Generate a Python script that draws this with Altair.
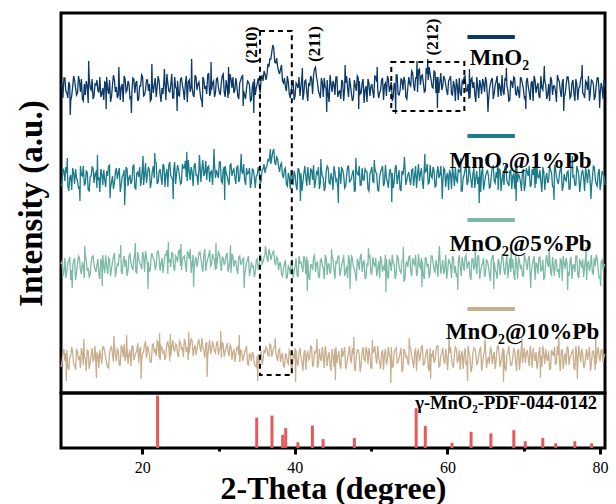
import altair as alt
import pandas as pd

# ---------------- data ----------------
STEP = 0.25          # 2-theta step of each digitised list
X_START = 10.0       # first point of the "main" lists
X_START_MID = 10.125 # first point of the in-between lists

mno2 = [3, -9, 11, -4, 7, -12, 2, 9, -6, 13, -3, -10, 5, 8, -14, 1, 10, -7, 4, -2,
        12, -5, -11, 6, 0, 9, -8, 14, -3, -9, 7, 2, -13, 10, -1, 5, -7, 11, -4, 8,
        -10, 3, 12, -6, 9, -2, -12, 7, 4, -8, 13, -5, 1, 10, -11, 6, -3, 15, -9, 2,
        8, -7, 11, -2, 5, -13, 9, 3, -6, 14, -1, 7, -10, 12, 0, -5, 16, -4, 6, -8,
        10, 2, -6, 13, -3, 9, -9, 15, 1, -4, 11, -7, 6, 12, -2, -10, 8, 4, -11, 7,
        -6, 5, 3, 9, 8, 15, 14, 22, 30, 44, 27, 31, 18, 20, 8, 11, -2, 7, -9, 4,
        -11, 6, 1, -7, 12, -4, 9, -12, 3, 10, 14, 22, 7, -5, 11, -8, 2, 9, -13, 5,
        8, -6, 12, -3, -10, 7, 1, 13, -8, 4, -12, 9, -2, 11, -5, 6, -14, 3, 10, -7,
        5, -9, 12, 0, -4, 9, -11, 6, 13, -3, 7, -8, 2, 14, -6, 10, -1, 8, -10, 12,
        3, 16, -2, 11, 19, 4, 14, -3, 21, 9, 15, 2, 18, -4, 12, 7, -1, 13, 5, -6,
        10, -5, 8, -12, 3, 11, -7, 6, 13, -2, -10, 9, 1, -6, 12, -9, 4, 10, -3, 7,
        -13, 5, 11, -4, 8, -8, 2, 14, -6, 9, -1, -11, 7, 12, -5, 3, -9, 10, 0, -7,
        11, -3, 6, -12, 9, 2, -7, 13, -1, 8, -10, 5, 12, -6, 3, -13, 10, -2, 7, -8,
        4, 12, -9, 6, -4, 10, -11, 2, 13, -5, 8, -1, -12, 9, 5, -7, 11, -3, 6, -10,
        2]
mno2_mid = [6, 11, -2, -9, 4, -7, 13, 1, -4, 8, 10, -12, -6, 3, 12, -1, -10, 5, 9, -3,
            -8, 1, 7, 12, -5, -13, 4, 9, 2, -6, -11, 5, 13, -3, 8, -9, -2, 10, 6, -12,
            3, 14, -7, -1, 9, 5, -10, -4, 11, 2, 8, -13, -5, 6, 15, -2, 4, -9, 12, 0,
            -6, 10, 4, -11, 13, 7, -3, 1, -8, 12, 5, -2, -12, 9, 3, 14, -7, -1, 8, -4,
            11, -3, 6, 15, -8, 2, -5, 10, 12, -1, 4, -10, 9, 14, -6, 1, 7, -12, 3, 10,
            1, 11, -4, 14, 18, 9, 25, 30, 37, 41, 26, 22, 15, 24, 6, 2, 13, -5, -1, 9,
            -7, 4, 12, 2, -11, 8, -3, 6, 13, -5, 20, 12, -2, -9, 7, 11, 0, -6, 14, -3,
            5, 12, -8, -2, 9, -12, 6, 1, 11, -5, -9, 3, 13, 8, -4, 10, -1, -13, 6, 2,
            -3, 13, 7, -9, -1, 11, 4, -7, 10, 2, -12, 6, 14, -5, -2, 9, 12, -8, 1, 5,
            18, 4, 11, -3, 20, 13, 6, -2, 15, 22, 9, 1, 17, 12, -4, 16, 3, 10, -2, 8,
            13, -6, 3, 10, -11, -4, 8, 12, -2, 5, -9, 11, 7, -13, 2, 9, -5, 6, 12, -8,
            -1, 9, -10, 4, 13, 6, -7, -2, 10, 3, -12, 8, 1, 11, -6, -3, 12, 5, -9, 7,
            2, -11, 8, 13, -4, 6, -9, 1, 11, 4, -6, -12, 9, 3, -2, 14, 7, -8, 10, -5,
            12, 3, -7, 9, -12, 5, 1, 10, -4, -9, 6, 13, -2, 8, -11, 4, 11, -6, 2, 9]
mno2_spk_x = [11.19, 13.56, 15.81, 17.44, 19.06, 21.69, 23.31, 24.94, 26.81, 28.19,
              29.31, 31.56, 33.44, 34.81, 41.06, 44.19, 46.56, 48.31, 50.69, 53.06,
              55.81, 57.19, 58.44, 62.56, 64.94, 67.31, 69.81, 72.19, 74.69, 77.06, 79.31]
mno2_spk_y = [-26, 28, -20, 22, -24, 25, 20, -22, 30, -18,
              27, 22, -17, -24, 21, -23, 24, -20, 22, -25,
              28, 30, -19, 20, -23, 21, -20, 23, -22, 24, -19]

pb1 = [-7, 10, -2, 6, -12, 4, 11, -5, 1, -9, 13, 3, -6, 8, -11, 2, 12, -4, 7, -1,
       -13, 5, 9, -8, 3, 14, -3, -10, 7, 0, 11, -6, 4, -12, 10, 1, -5, 13, -9, 6,
       2, -7, 15, 4, -4, 12, -9, 8, 1, 16, -3, 10, -6, 13, 5, -8, 17, 2, 9, -5,
       14, 3, -4, 11, 18, -2, 8, 12, -7, 16, 4, 10, -3, 19, 6, -1, 13, 7, -6, 15,
       9, 1, 17, -4, 12, 6, -2, 14, 3, 10, -5, 13, 0, 8, 15, -6, 5, 11, -3, 9,
       -9, 4, 7, -2, 10, 6, 13, 18, 15, 27, 17, 22, 12, 14, 4, 9, -5, 6, -10, 3,
       8, -7, 11, -1, -12, 6, 2, 12, -6, 9, 14, -3, 5, -10, 10, 1, -8, 13, -4, 6,
       -11, 7, 0, 12, -5, 9, -9, 3, 13, -2, 6, -13, 10, 4, -6, 11, -1, 8, -10, 5,
       12, -4, 7, -11, 2, 10, -7, 14, -3, 6, 1, -9, 11, -5, 9, -12, 4, 13, -1, 7,
       -6, 10, 3, -9, 15, 5, -2, 12, 8, -5, 14, 1, 9, -7, 13, 4, -3, 11, -8, 6,
       9, -10, 4, 12, -3, 7, -12, 1, 10, -6, 13, -1, 5, -9, 8, 2, -13, 11, -4, 6,
       3, -8, 12, -2, 7, -11, 9, 0, -6, 14, -4, 8, -10, 5, 11, -3, 2, -12, 10, -5,
       7, 13, -6, 4, -9, 11, 1, -3, 12, -11, 6, -1, 9, -7, 14, 2, -5, 10, -12, 5,
       -2, 8, -10, 12, 3, -6, 9, -13, 6, 1, 11, -4, 7, -9, 13, 0, -7, 10, -3, 5,
       -6]
pb1_mid = [-4, 9, 12, -7, 1, -11, 6, 10, -2, -8, 4, 13, -5, 7, -12, 3, 11, 5, -9, 2,
           10, -6, -1, 8, 13, -9, 3, -4, 11, 6, -13, 2, 9, 12, -7, 4, -2, 14, -10, 7,
           12, 1, -6, 16, 5, 9, -3, 13, 18, -5, 7, 2, 15, -8, 10, 14, 3, -2, 17, 6,
           9, -5, 15, 11, 2, 19, -1, 7, 13, 4, -6, 16, 10, 3, 18, 12, -3, 8, 14, 1,
           5, 17, -2, 9, 13, 3, -6, 15, 8, 1, 12, -3, 16, 5, -1, 11, 6, -9, 10, 2,
           3, 12, -4, 9, 15, 11, 19, 24, 21, 30, 14, 20, 7, 16, 1, 11, -7, 2, 9, -6,
           4, -11, 9, 6, -3, 13, -7, 2, 10, -1, -9, 7, 12, -4, 3, -12, 8, 11, -5, 1,
           13, -2, -10, 6, 11, 4, -7, 12, -3, 1, 9, -11, 5, 13, -6, -1, 10, 7, -12, 8,
           -2, 11, 5, -12, 7, 13, -4, 1, -9, 10, 6, -3, 14, 2, -10, 8, 12, -6, 4, -1,
           9, -7, 13, 4, -2, 11, -10, 7, 15, -4, 3, 12, -8, 6, 1, 13, -5, 9, 3, -11,
           5, 12, -7, -1, 10, 8, -12, 4, 13, -3, 6, -9, 11, 1, -5, 12, 7, -11, 3, 9,
           -9, 4, 13, -4, 1, 10, -12, 6, 12, -2, -7, 9, 3, -10, 14, 5, -3, 8, -12, 11,
           3, -8, 10, 12, -5, 2, 9, -13, 7, 1, -4, 13, 6, -9, 11, -2, 4, 12, -7, 0,
           7, -10, 11, 2, -6, 13, 4, -3, 9, -12, 5, 10, -8, 1, 12, -5, 6, -11, 8, 3]
pb1_spk_x = [10.81, 12.44, 14.69, 16.31, 18.19, 20.56, 22.06, 24.44, 26.19, 27.81,
             29.69, 31.06, 33.19, 36.94, 40.81, 43.44, 45.69, 47.94, 50.31, 52.56,
             54.19, 56.81, 59.06, 61.44, 63.81, 66.19, 68.56, 71.06, 73.44, 75.81, 78.19]
pb1_spk_y = [21, -22, 24, -19, -26, 23, 26, -20, 27, 24,
             30, -21, 25, 30, -22, 20, -24, 21, 19, -23,
             22, 25, -20, 21, -24, 20, -22, 22, -21, 23, -20]

pb5 = [4, -8, 10, -3, 7, -12, 1, 9, -5, 12, -2, 6, -10, 8, 0, -7, 11, 3, -4, 9,
       -11, 5, 2, 13, -6, 8, -1, 11, -9, 4, 14, -3, 7, 1, -8, 12, 5, -2, 15, -5,
       9, 3, 16, -4, 11, 6, -1, 14, 8, 2, 17, -3, 10, 5, 13, -6, 9, 15, 1, 12,
       6, 18, -2, 11, 4, 16, 9, -5, 13, 7, 1, 15, 10, -4, 19, 5, 12, 2, 14, 8,
       -1, 16, 6, 11, 3, 13, -4, 9, 14, 1, 7, -6, 12, 4, 10, -2, 8, -8, 6, 2,
       -5, 9, 3, 12, 6, 14, 10, 19, 8, 16, 6, 11, -2, 5, -8, 4, -11, 2, -6, 7,
       -3, 10, -9, 5, 1, 12, -6, 8, -12, 3, 11, -4, 6, -10, 9, 0, 13, -7, 4, -1,
       9, -11, 5, 12, -3, 7, -8, 2, 13, -5, 10, -1, -13, 6, 11, -4, 8, -9, 3, 12,
       -6, 4, 10, -2, -10, 7, 1, 13, -7, 9, -3, 5, -11, 12, 2, -5, 8, -12, 6, 11,
       -4, 10, 3, -8, 14, 0, 7, -11, 9, 4, -5, 12, -2, 8, -9, 11, 1, -6, 13, -3,
       6, -10, 10, 2, -5, 13, -8, 4, 11, -1, 7, -12, 9, 3, -6, 12, -3, 5, -9, 8,
       1, -13, 11, 6, -4, 9, -7, 14, -2, 5, -10, 10, 0, -6, 12, -11, 7, 3, -8, 9,
       -2, 12, -6, 7, -12, 4, 10, -3, 8, -9, 13, 1, -5, 11, -8, 6, -1, 9, -13, 5,
       10, -4, 7, -11, 3, 12, -7, 8, 0, -9, 11, 4, -3, 13, -6, 2, 9, -10, 6, -2,
       4]
pb5_mid = [7, -4, -10, 5, 11, -2, 8, -12, 4, 10, -6, 1, 13, -3, -9, 6, 12, -1, 3, -7,
           9, 13, -5, 2, 10, -8, 6, 15, -2, 3, 11, -6, 12, 8, -3, 14, 1, 9, -4, 16,
           5, -1, 12, 17, 3, -4, 14, 9, -2, 16, 11, 4, -5, 13, 18, 6, 1, 15, -3, 10,
           17, 2, 8, 12, -4, 15, 19, 5, -1, 11, 7, 16, 2, 13, -3, 9, 18, 4, 10, -2,
           8, 14, -3, 10, 6, 15, 1, -5, 12, 7, -2, 11, 4, 9, -7, 6, 12, -3, 1, -9,
           7, -2, 13, 4, 11, 18, 6, 15, 12, 17, 3, 9, 5, -6, -1, 8, -9, 0, 5, -10,
           1, -7, 12, 6, -4, 9, 11, -9, 3, -2, 13, 5, -7, 8, 2, -11, 10, 4, -6, 12,
           -2, 6, 11, -8, 3, 13, -4, -10, 7, 12, 1, -6, 9, -2, 14, 5, -11, 4, 10, -5,
           11, 2, -8, 7, 12, -4, -1, 9, -11, 5, 13, 3, -6, 10, -3, 7, -13, 4, 1, 12,
           -8, 5, 13, -4, 2, 10, -7, 11, 1, -10, 12, 6, -4, 3, 14, -6, 8, -2, -11, 9,
           3, 12, -5, -9, 7, 1, 11, -3, 13, 4, -8, 9, -2, 6, 12, -11, 2, 10, -5, 7,
           -6, 8, 13, -2, -11, 6, 3, 10, -7, 12, 1, -4, 9, -12, 5, 11, -1, -8, 13, 4,
           10, -9, 2, 12, 5, -6, 11, -2, -12, 7, 4, 13, -7, 1, 9, -4, -10, 8, 12, -1,
           5, -8, 11, 3, -4, 12, -10, 6, 9, 1, -12, 7, 3, -5, 10, 13, -2, -9, 8, 2]
pb5_spk_x = [11.44, 13.06, 15.31, 17.69, 19.56, 21.19, 23.81, 25.44, 27.06, 29.94,
             31.81, 33.56, 36.31, 41.69, 44.81, 47.19, 49.56, 51.81, 54.06, 56.44,
             58.69, 61.06, 63.31, 65.69, 67.94, 70.44, 72.81, 75.19, 77.56, 79.44]
pb5_spk_y = [-20, 22, -18, 23, 25, -21, 26, 24, -19, 25,
             23, -20, 22, -23, 19, -21, 20, -24, 21, -19,
             22, -22, 20, -21, 23, -20, 19, -22, 21, -18]

pb10 = [-8, 5, -2, 9, -11, 3, 7, -6, 10, -1, -9, 6, 2, -12, 8, -4, 11, 0, -7, 5,
        9, -5, 12, 1, -8, 7, 13, -3, 4, 10, -6, 14, 2, -2, 11, 5, -7, 13, 3, 8,
        -4, 12, 6, 15, 1, 10, -3, 14, 7, 3, 16, -1, 11, 8, 4, 17, -2, 12, 9, 15,
        5, 18, 10, 2, 16, 12, 6, 20, 3, 14, 9, 19, 7, 13, 1, 17, 11, 5, 18, 8,
        15, 4, 12, 17, 2, 11, 7, 14, -1, 9, 5, 12, -3, 8, 2, 10, -5, 6, -2, 4,
        -7, 3, -4, 8, -1, 6, 10, 3, 14, 7, 12, 2, 9, -3, 6, -8, 4, -5, 7, -10,
        2, 9, -6, 11, -3, 5, -11, 8, 1, 12, -5, 6, -9, 10, -2, 3, 13, -7, 7, -12,
        4, 10, -4, 8, -10, 2, 12, -6, 6, -1, 11, -8, 3, 9, -13, 7, 0, 12, -5, 5,
        -9, 8, 2, 13, -3, 6, -11, 10, -1, 4, 12, -7, 9, -4, 1, 11, -10, 7, 3, -6,
        10, -2, 6, -12, 9, 3, 14, -5, 7, -9, 11, 2, -4, 8, 13, -7, 5, -1, 10, -11,
        6, 1, -8, 12, -3, 9, 4, -10, 11, -2, 7, -13, 5, 10, -6, 3, 12, -4, 8, -9,
        2, 11, -5, 7, -1, 13, -8, 4, 9, -12, 6, 1, -6, 10, -3, 8, -11, 12, 3, -4,
        9, -7, 5, 11, -2, -10, 7, 3, 13, -5, 1, 8, -9, 6, 12, -3, 4, -12, 10, 0,
        -6, 11, 2, 7, -9, 13, -4, 5, 10, -8, 3, -1, 12, -5, 8, -11, 6, 2, 9, -3,
        5]
pb10_mid = [-3, 10, 6, -8, 2, 12, -5, -11, 7, 3, 11, -6, 1, 9, -10, 4, -2, 13, 6, -9,
            2, 12, 7, -4, -9, 10, 4, 14, -2, 8, -6, 11, 15, 3, -5, 9, 13, -1, 6, 16,
            10, -2, 7, 17, 12, 4, -3, 15, 9, 18, 1, 13, 6, -1, 16, 11, 3, 19, 8, 14,
            2, 16, 11, 20, 7, -1, 14, 18, 10, 4, 17, 12, 21, 8, 15, 3, 19, 9, 13, 6,
            18, 10, 1, 14, 8, 16, 3, 12, 7, -3, 11, 4, 9, -2, 6, 13, -6, 3, 7, -4,
            -8, 5, 1, -6, 9, 12, 4, 15, 2, 11, 8, -2, 10, 3, -7, 5, -3, 9, -9, 4,
            11, -4, 6, 2, -12, 9, 4, -1, 13, -8, 7, 10, -5, 1, 12, -9, 6, 3, -6, 10,
            -8, 12, 3, -5, 11, 7, -10, 1, 13, -3, 5, -12, 9, 4, -6, 12, -2, 8, 11, -9,
            6, 13, -5, 2, -10, 9, 5, -6, 12, 1, -9, 8, 11, -3, 6, -13, 10, 2, -4, 13,
            3, -9, 11, 7, -2, 12, -6, 1, 10, -12, 5, 9, -1, 13, -8, 4, 11, -5, 2, 8,
            12, -7, 5, 10, -1, -11, 8, 3, -6, 13, 2, -9, 11, 6, -3, 9, -12, 4, 12, -2,
            -5, 9, 3, -10, 12, 6, -2, 11, -9, 4, 13, -6, 1, 8, -12, 10, 2, -4, 11, 5,
            1, 13, -9, 4, 7, -3, 12, -8, 5, 10, -2, -11, 9, 3, -6, 13, -1, 8, -10, 6,
            12, -6, 4, 9, -11, 2, 13, -3, 6, -8, 10, 5, -12, 7, 1, -5, 12, -2, 9, 3]
pb10_spk_x = [10.69, 12.94, 14.56, 16.81, 18.44, 20.31, 22.69, 24.06, 26.44, 28.81,
              30.56, 32.94, 35.31, 37.56, 40.19, 42.94, 45.31, 47.69, 50.06, 52.44,
              54.81, 57.56, 59.94, 62.31, 64.56, 66.94, 69.31, 71.69, 74.06, 76.44, 78.81]
pb10_spk_y = [-22, 20, -19, 23, 24, -20, 26, 25, 27, -18,
              28, 24, -22, 21, -23, 20, -21, 22, 19, -24,
              21, -20, 22, -22, 20, -23, 21, -19, 22, -20, 21]

series_names = ["MnO₂", "MnO₂@1%Pb", "MnO₂@5%Pb", "MnO₂@10%Pb"]
series_main = [mno2, pb1, pb5, pb10]
series_mid = [mno2_mid, pb1_mid, pb5_mid, pb10_mid]
series_spk_x = [mno2_spk_x, pb1_spk_x, pb5_spk_x, pb10_spk_x]
series_spk_y = [mno2_spk_y, pb1_spk_y, pb5_spk_y, pb10_spk_y]
series_offsets = [304, 214, 125, 34]          # vertical stacking offsets (a.u.)
series_colors = ["#0b3966", "#1b7b8b", "#7cbaa6", "#c8ae8d"]

# reference pattern gamma-MnO2 PDF 044-0142
pdf_pos = [22.0, 35.0, 37.0, 38.4, 38.8, 40.4, 42.3, 43.7, 47.8, 55.9,
           57.1, 60.6, 63.1, 65.7, 68.7, 70.2, 72.5, 74.2, 76.7, 78.9]
pdf_int = [100, 58, 62, 25, 38, 11, 43, 17, 19, 76,
           42, 10, 31, 28, 34, 13, 19, 9, 13, 9]

# annotations (data units)
hkl_text = ["(210)", "(211)", "(212)"]
hkl_x = [34.6, 42.7, 57.9]
hkl_y = [348, 349, 356]

box_x1 = [35.6, 52.5]
box_x2 = [39.7, 61.9]
box_y1 = [18, 282]
box_y2 = [362, 331]

leg_x1 = [62.3, 62.3, 62.3, 62.3]
leg_x2 = [68.4, 68.4, 68.4, 68.4]
leg_y = [356, 257, 173, 84]
leg_label_x = [62.6, 60.0, 60.0, 59.5]
leg_label_y = [335, 232, 149, 61]

pdf_label = "γ-MnO₂-PDF-044-0142"

# ---------------- tables ----------------
rows = []
for name, main, mid, sx, sy, off in zip(series_names, series_main, series_mid,
                                         series_spk_x, series_spk_y, series_offsets):
    for i, v in enumerate(main):
        rows.append({"deg": X_START + STEP * i, "series": name, "y": v + off})
    for i, v in enumerate(mid):
        rows.append({"deg": X_START_MID + STEP * i, "series": name, "y": v + off})
    for xv, v in zip(sx, sy):
        rows.append({"deg": xv, "series": name, "y": v + off})
traces = pd.DataFrame(rows).sort_values(["series", "deg"])

legend_df = pd.DataFrame({"series": series_names, "x1": leg_x1, "x2": leg_x2,
                          "y": leg_y, "lx": leg_label_x, "ly": leg_label_y})
hkl_df = pd.DataFrame({"t": hkl_text, "x": hkl_x, "y": hkl_y})
box_df = pd.DataFrame({"x1": box_x1, "x2": box_x2, "y1": box_y1, "y2": box_y2})
pdf_df = pd.DataFrame({"pos": pdf_pos, "int": pdf_int})

FONT = "Liberation Serif"
W = 544

xsc = alt.Scale(domain=[10, 80], nice=False, zero=False)
ysc = alt.Scale(domain=[0, 380], nice=False, zero=False)
color = alt.Color("series:N", scale=alt.Scale(domain=series_names, range=series_colors), legend=None)

yaxis = alt.Axis(title="Intensity (a.u.)", labels=False, ticks=False, domain=False, grid=False,
                 titleFont=FONT, titleFontSize=33, titleFontWeight="bold", titleColor="black",
                 titlePadding=13)

lines = alt.Chart(traces).mark_line(strokeWidth=1.3).encode(
    x=alt.X("deg:Q", scale=xsc, axis=None),
    y=alt.Y("y:Q", scale=ysc, axis=yaxis),
    color=color,
    detail="series:N",
)

boxes = alt.Chart(box_df).mark_rect(fill=None, fillOpacity=0, stroke="black",
                                    strokeWidth=2, strokeDash=[5, 4]).encode(
    x=alt.X("x1:Q", scale=xsc, axis=None), x2="x2:Q",
    y=alt.Y("y1:Q", scale=ysc, axis=yaxis), y2="y2:Q",
)

hkl = alt.Chart(hkl_df).mark_text(font=FONT, fontSize=17, fontWeight="bold", angle=270,
                                  align="center", baseline="middle", color="black").encode(
    x=alt.X("x:Q", scale=xsc, axis=None),
    y=alt.Y("y:Q", scale=ysc, axis=yaxis),
    text="t:N",
)

leg_lines = alt.Chart(legend_df).mark_rule(strokeWidth=4).encode(
    x=alt.X("x1:Q", scale=xsc, axis=None), x2="x2:Q",
    y=alt.Y("y:Q", scale=ysc, axis=yaxis),
    color=color,
)

leg_text = alt.Chart(legend_df).mark_text(font=FONT, fontSize=23, fontWeight="bold",
                                          align="left", baseline="middle", color="black").encode(
    x=alt.X("lx:Q", scale=xsc, axis=None),
    y=alt.Y("ly:Q", scale=ysc, axis=yaxis),
    text="series:N",
)

top = alt.layer(lines, boxes, hkl, leg_lines, leg_text).properties(width=W, height=380)

xaxis = alt.Axis(
    values=[20, 30, 40, 50, 60, 70, 80],
    labelExpr="datum.value % 20 == 0 ? datum.label : ''",
    tickSize={"condition": {"test": "datum.value % 20 == 0", "value": 6}, "value": 3},
    tickWidth=3, tickColor="black", domain=False, grid=False,
    labelFont=FONT, labelFontSize=16, labelColor="black", labelPadding=5,
    title="2-Theta (degree)", titleFont=FONT, titleFontSize=32, titleFontWeight="bold",
    titleColor="black", titlePadding=-2,
)

ysc_b = alt.Scale(domain=[0, 105], nice=False)

bars = alt.Chart(pdf_df).mark_bar(size=3, color="#e8585a").encode(
    x=alt.X("pos:Q", scale=xsc, axis=xaxis),
    y=alt.Y("int:Q", scale=ysc_b, axis=None),
)

pdf_text = alt.Chart(pd.DataFrame({"t": [pdf_label], "x": [79.6], "y": [86]})).mark_text(
    font=FONT, fontSize=18.5, fontWeight="bold", align="right", baseline="middle", color="black"
).encode(
    x=alt.X("x:Q", scale=xsc, axis=xaxis),
    y=alt.Y("y:Q", scale=ysc_b, axis=None),
    text="t:N",
)

bottom = alt.layer(bars, pdf_text).properties(width=W, height=55)

chart = alt.vconcat(top, bottom, spacing=0, bounds="flush").properties(
    padding={"left": 13, "top": 11, "right": 3, "bottom": 0},
    background="white",
).configure_view(stroke="black", strokeWidth=3)

chart.save("out.html", embed_options={"renderer": "svg", "actions": False})
